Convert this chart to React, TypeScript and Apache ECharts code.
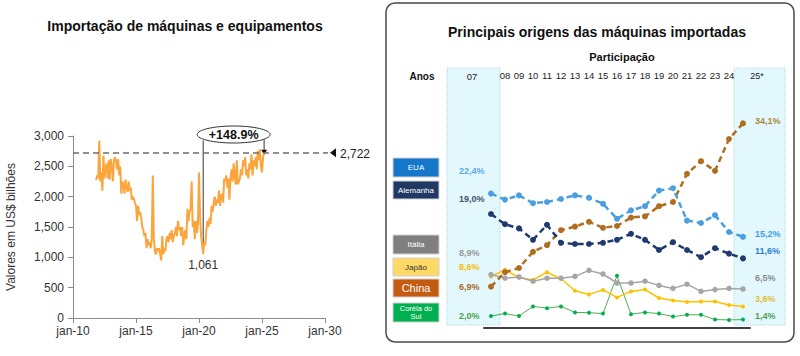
import React, { useEffect, useRef } from "react";
import * as echarts from "echarts";

// ---------- Left chart: monthly imports (US$ billions), Nov 2011 .. Mar 2025 ----------
const importStartYear = 2011;
const importStartMonth = 10; // November (0-based)
const importValues = [
  2276, 2350,
  2300, 2920, 2250, 2400, 2100, 2680, 2300, 2450, 2550, 2300, 2600, 2280,
  2620, 2500, 2250, 2600, 2650, 2580, 2450, 2620, 2350, 2500, 2050, 2250,
  2200, 2050, 2280, 2150, 2080, 2250, 2100, 2150, 1950, 2000, 1960, 1900,
  1850, 1600, 1850, 1700, 1750, 1650, 1500, 1450, 1350, 1400, 1150, 1300,
  1200, 1250, 1150, 1300, 2350, 1300, 1100, 1050, 1150, 1100, 1150, 1050,
  950, 1350, 1050, 1150, 1100, 1300, 1350, 1250, 1400, 1300, 1450, 1250,
  1350, 1400, 1500, 1350, 1600, 1450, 1500, 1350, 1500, 1200, 1350, 1450,
  1300, 1800, 1600, 1750, 1800, 2250, 1500, 1600, 1300, 1600, 1400, 1550,
  2400, 1700, 1350, 1200, 1061, 1250, 1200, 1450, 1600, 1500, 1650, 1550,
  1850, 1750, 1900, 2000, 1850, 1950, 1900, 2100, 1850, 2000, 2050, 1900,
  2300, 2250, 2350, 2150, 2300, 1950, 2300, 2450, 2250, 2550, 2350, 2200,
  2600, 2200, 2250, 2300, 2450, 2350, 2600, 2500, 2650, 2350, 2450, 2300,
  2550, 2450, 2700, 2350, 2600, 2500, 2650, 2450, 2750, 2600, 2780, 2500,
  2400, 2650, 2722,
];
// annotated trough: May 2020
const troughYear = 2020;
const troughMonth = 4; // May (0-based)
const xAxisMin = 2010;
const xAxisMax = 2030;
const xAxisInterval = 5;
const yAxisMax = 3000;
const yAxisInterval = 500;
const changeLabel = "+148.9%";

// ---------- Right chart: origin shares (%) ----------
const years = ["07", "08", "09", "10", "11", "12", "13", "14", "15", "16", "17", "18", "19", "20", "21", "22", "23", "24", "25*"];
const usa = [22.4, 21.4, 22.1, 20.8, 21.0, 21.5, 22.1, 21.7, 20.7, 18.2, 19.6, 20.3, 22.9, 23.3, 17.9, 17.5, 18.8, 16.0, 15.2];
const germany = [19.0, 17.3, 16.6, 14.7, 17.2, 14.2, 14.0, 14.0, 14.2, 14.7, 15.7, 14.7, 13.0, 14.3, 13.0, 11.8, 13.3, 12.4, 11.6];
const china = [6.9, 9.3, 10.0, 12.7, 13.8, 16.3, 16.9, 17.7, 16.7, 17.0, 18.4, 18.6, 20.3, 21.0, 25.7, 27.8, 26.2, 31.5, 34.1];
const italy = [8.9, 8.3, 8.5, 7.8, 8.3, 8.3, 8.6, 9.6, 9.0, 7.5, 7.5, 7.8, 7.1, 6.6, 7.3, 6.1, 6.4, 6.6, 6.5];
const japan = [8.6, 9.7, 8.4, 8.0, 9.3, 8.2, 6.2, 5.6, 6.35, 5.1, 6.1, 6.4, 5.0, 4.6, 4.35, 4.4, 4.4, 3.85, 3.6];
const korea = [2.0, 2.4, 2.0, 3.6, 3.3, 3.6, 2.6, 2.55, 2.4, 8.7, 2.3, 2.6, 2.4, 1.9, 2.2, 2.2, 1.4, 1.35, 1.4];

const fmtPct = (v: number) => v.toFixed(1).replace(".", ",") + "%";
const fmtThousands = (v: number) => v.toLocaleString("en-US");

const FONT = "Arial, 'Liberation Sans', sans-serif";

export default function App() {
  const ref = useRef<HTMLDivElement>(null);

  useEffect(() => {
    if (!ref.current) return;
    const chart = echarts.init(ref.current, null, { renderer: "svg" });
    const importData = importValues.map((v, i) => [importStartYear + (importStartMonth + i) / 12, v]);

    const dashedSeries = (name: string, data: number[], color: string) => ({
      name,
      type: "line",
      xAxisIndex: 1,
      yAxisIndex: 1,
      data,
      symbol: "circle",
      symbolSize: 6,
      itemStyle: { color },
      lineStyle: { color, width: 2.5, type: [6, 4] },
      z: 4,
    });
    const solidSeries = (name: string, data: number[], color: string, dot: string, size: number, width: number) => ({
      name,
      type: "line",
      xAxisIndex: 1,
      yAxisIndex: 1,
      data,
      symbol: "circle",
      symbolSize: size,
      itemStyle: { color: dot },
      lineStyle: { color, width },
      z: 3,
    });

    chart.setOption({
      animation: false,
      textStyle: { fontFamily: FONT },
      grid: [
        { left: 73, right: 475, top: 136, bottom: 38 },
        { left: 484, right: 50, top: 88, bottom: 28 },
      ],
      xAxis: [
        {
          type: "value",
          gridIndex: 0,
          min: xAxisMin,
          max: xAxisMax,
          interval: xAxisInterval,
          splitLine: { show: false },
          axisLine: { lineStyle: { color: "#8c8c8c" } },
          axisTick: { show: true, length: 5, lineStyle: { color: "#8c8c8c" } },
          axisLabel: {
            color: "#333",
            fontSize: 12,
            margin: 7,
            formatter: (v: number) => "jan-" + String(v % 100).padStart(2, "0"),
          },
        },
        {
          type: "category",
          gridIndex: 1,
          data: years,
          boundaryGap: true,
          axisLine: { lineStyle: { color: "#404040", width: 2 } },
          axisTick: { show: false },
          axisLabel: { show: false },
        },
        {
          type: "category",
          gridIndex: 1,
          position: "top",
          data: years,
          boundaryGap: true,
          axisLine: { show: false },
          axisTick: { show: false },
          axisLabel: {
            interval: 0,
            fontSize: 9.5,
            color: "#222",
            margin: 8,
            formatter: (v: string) => (v === years[0] || v === years[years.length - 1] ? "" : v),
          },
        },
      ],
      yAxis: [
        {
          type: "value",
          gridIndex: 0,
          min: 0,
          max: yAxisMax,
          interval: yAxisInterval,
          splitLine: { show: false },
          axisLine: { show: true, lineStyle: { color: "#8c8c8c" } },
          axisTick: { show: true, length: 5, lineStyle: { color: "#8c8c8c" } },
          axisLabel: { color: "#333", fontSize: 12, margin: 9, formatter: (v: number) => fmtThousands(v) },
          name: "Valores em US$ bilhões",
          nameLocation: "middle",
          nameGap: 56,
          nameTextStyle: { color: "#333", fontSize: 12 },
        },
        {
          type: "value",
          gridIndex: 1,
          min: 0,
          max: 40,
          show: false,
        },
      ],
      series: [
        {
          name: "Importação",
          type: "line",
          xAxisIndex: 0,
          yAxisIndex: 0,
          data: importData,
          showSymbol: false,
          lineStyle: { color: "#fba53c", width: 2 },
          itemStyle: { color: "#fba53c" },
          markLine: {
            silent: true,
            symbol: "none",
            label: { show: false },
            lineStyle: { color: "#6e6e6e", type: [6, 4], width: 1.5 },
            data: [{ yAxis: importValues[importValues.length - 1] }],
          },
        },
        solidSeries("Coréia do Sul", korea, "#4cb050", "#00b050", 4, 1),
        solidSeries("Japão", japan, "#ffc000", "#ffc000", 4, 1.5),
        solidSeries("Itália", italy, "#a6a6a6", "#a6a6a6", 5.5, 1.5),
        dashedSeries("China", china, "#b06d1e"),
        dashedSeries("Alemanha", germany, "#1f3a70"),
        dashedSeries("EUA", usa, "#4a9fe0"),
      ],
    });

    // ---- annotations computed through the axes ----
    const troughIdx = (troughYear - importStartYear) * 12 + troughMonth - importStartMonth;
    const troughVal = importValues[troughIdx];
    const lastIdx = importValues.length - 1;
    const lastVal = importValues[lastIdx];
    const pMin = chart.convertToPixel({ xAxisIndex: 0, yAxisIndex: 0 }, importData[troughIdx]) as number[];
    const pLast = chart.convertToPixel({ xAxisIndex: 0, yAxisIndex: 0 }, importData[lastIdx]) as number[];
    const pEnd = chart.convertToPixel({ xAxisIndex: 0, yAxisIndex: 0 }, [xAxisMax, lastVal]) as number[];
    const ellCx = (pMin[0] + pLast[0]) / 2;
    const ellCy = 134.5;

    const panelBox = { x: 386, y: 3, w: 408, h: 339 };

    const legendBoxes = [
      { label: "EUA", color: "#1577c9", text: "#fff", y: 158, h: 19, size: 8 },
      { label: "Alemanha", color: "#1f3864", text: "#fff", y: 181, h: 18, size: 8 },
      { label: "Itália", color: "#7f7f7f", text: "#fff", y: 235, h: 19, size: 8 },
      { label: "Japão", color: "#ffd966", text: "#333", y: 258, h: 18, size: 8 },
      { label: "China", color: "#c55a11", text: "#fff", y: 279, h: 18, size: 11 },
      { label: "Coréia do\nSul", color: "#00b050", text: "#fff", y: 303, h: 19, size: 7.5 },
    ];

    const leftLabels = [
      { v: usa[0], color: "#5aa8e6", y: 171 },
      { v: germany[0], color: "#44546a", y: 199 },
      { v: italy[0], color: "#9a9a9a", y: 253 },
      { v: japan[0], color: "#f2c200", y: 267 },
      { v: china[0], color: "#a8692a", y: 287 },
      { v: korea[0], color: "#4f9f4f", y: 316 },
    ];
    const n = years.length - 1;
    const rightLabels = [
      { v: china[n], color: "#a88a3a", y: 121 },
      { v: usa[n], color: "#3aa0f0", y: 234 },
      { v: germany[n], color: "#2f80d0", y: 251 },
      { v: italy[n], color: "#8c8c8c", y: 278 },
      { v: japan[n], color: "#e0c030", y: 299 },
      { v: korea[n], color: "#4f9f4f", y: 316 },
    ];

    const graphics: any[] = [
      // left title
      {
        type: "text",
        style: {
          x: 185, y: 26, text: "Importação de máquinas e equipamentos",
          fill: "#111", font: `bold 14px ${FONT}`, align: "center", verticalAlign: "middle",
        },
      },
      // trough label
      {
        type: "text",
        style: {
          x: pMin[0], y: pMin[1] + 11, text: fmtThousands(troughVal),
          fill: "#333", font: `12px ${FONT}`, align: "center", verticalAlign: "middle",
        },
      },
      // vertical lines
      { type: "line", shape: { x1: pMin[0], y1: pMin[1], x2: pMin[0], y2: ellCy + 6 }, style: { stroke: "#333", lineWidth: 1 } },
      { type: "line", shape: { x1: pLast[0], y1: ellCy + 5, x2: pLast[0], y2: pLast[1] }, style: { stroke: "#333", lineWidth: 1 } },
      // marker at last point
      {
        type: "polygon",
        shape: { points: [[pLast[0] - 3, pLast[1] - 3], [pLast[0] + 3, pLast[1] - 3], [pLast[0], pLast[1] + 2]] },
        style: { fill: "#111" },
      },
      // ellipse with change label
      {
        type: "ellipse",
        shape: { cx: ellCx, cy: ellCy, rx: (pLast[0] - pMin[0]) / 2 + 6, ry: 8.5 },
        style: { fill: "#fff", stroke: "#333", lineWidth: 1 },
        z: 10,
      },
      {
        type: "text",
        z: 11,
        style: {
          x: ellCx, y: ellCy, text: changeLabel,
          fill: "#111", font: `bold 12.5px ${FONT}`, align: "center", verticalAlign: "middle",
        },
      },
      // extension of dashed line + arrow + label
      { type: "line", shape: { x1: pEnd[0], y1: pEnd[1], x2: pEnd[0] + 3, y2: pEnd[1] }, style: { stroke: "#6e6e6e", lineWidth: 1.5 } },
      {
        type: "polygon",
        shape: { points: [[pEnd[0] + 5, pEnd[1]], [pEnd[0] + 11, pEnd[1] - 4.5], [pEnd[0] + 11, pEnd[1] + 4.5]] },
        style: { fill: "#111" },
      },
      {
        type: "text",
        style: {
          x: pEnd[0] + 15, y: pEnd[1] + 1, text: fmtThousands(lastVal),
          fill: "#222", font: `12px ${FONT}`, align: "left", verticalAlign: "middle",
        },
      },
      // right panel border
      {
        type: "rect",
        shape: { x: panelBox.x, y: panelBox.y, width: panelBox.w, height: panelBox.h, r: 9 },
        style: { fill: "none", stroke: "#4a4a4a", lineWidth: 1.5 },
        z: -5,
      },
      // cyan columns
      {
        type: "rect",
        shape: { x: 447, y: 68, width: 53, height: 257 },
        style: { fill: "#e2f8fd", stroke: "#a8d8ea", lineWidth: 1, lineDash: [1, 1] },
        z: -4,
      },
      {
        type: "rect",
        shape: { x: 734, y: 68, width: 51, height: 257 },
        style: { fill: "#e2f8fd", stroke: "#a8d8ea", lineWidth: 1, lineDash: [1, 1] },
        z: -4,
      },
      // right titles
      {
        type: "text",
        style: {
          x: 597, y: 32, text: "Principais origens das máquinas importadas",
          fill: "#111", font: `bold 14px ${FONT}`, align: "center", verticalAlign: "middle",
        },
      },
      {
        type: "text",
        style: {
          x: 622, y: 57, text: "Participação",
          fill: "#111", font: `bold 11px ${FONT}`, align: "center", verticalAlign: "middle",
        },
      },
      {
        type: "text",
        style: {
          x: 422, y: 76, text: "Anos",
          fill: "#111", font: `bold 10px ${FONT}`, align: "center", verticalAlign: "middle",
        },
      },
      {
        type: "text",
        style: {
          x: 472, y: 76, text: years[0],
          fill: "#222", font: `9.5px ${FONT}`, align: "center", verticalAlign: "middle",
        },
      },
      {
        type: "text",
        style: {
          x: 757, y: 76, text: years[years.length - 1],
          fill: "#222", font: `9px ${FONT}`, align: "center", verticalAlign: "middle",
        },
      },
    ];

    legendBoxes.forEach((b) => {
      graphics.push({
        type: "rect",
        shape: { x: 393, y: b.y, width: 46, height: b.h },
        style: { fill: b.color, stroke: "#d0d0d0", lineWidth: 1 },
      });
      graphics.push({
        type: "text",
        style: {
          x: 416, y: b.y + b.h / 2, text: b.label, fill: b.text,
          font: `${b.size}px ${FONT}`, align: "center", verticalAlign: "middle", lineHeight: b.size + 1,
        },
      });
    });
    leftLabels.forEach((l) => {
      graphics.push({
        type: "text",
        style: {
          x: 459, y: l.y, text: fmtPct(l.v), fill: l.color,
          font: `bold 9px ${FONT}`, align: "left", verticalAlign: "middle",
        },
      });
    });
    rightLabels.forEach((l) => {
      graphics.push({
        type: "text",
        style: {
          x: 755, y: l.y, text: fmtPct(l.v), fill: l.color,
          font: `bold 9px ${FONT}`, align: "left", verticalAlign: "middle",
        },
      });
    });

    chart.setOption({ graphic: graphics });

    return () => chart.dispose();
  }, []);

  return (
    <div
      ref={ref}
      style={{ position: "fixed", left: 0, top: 0, width: 800, height: 356, background: "#fff" }}
    />
  );
}
